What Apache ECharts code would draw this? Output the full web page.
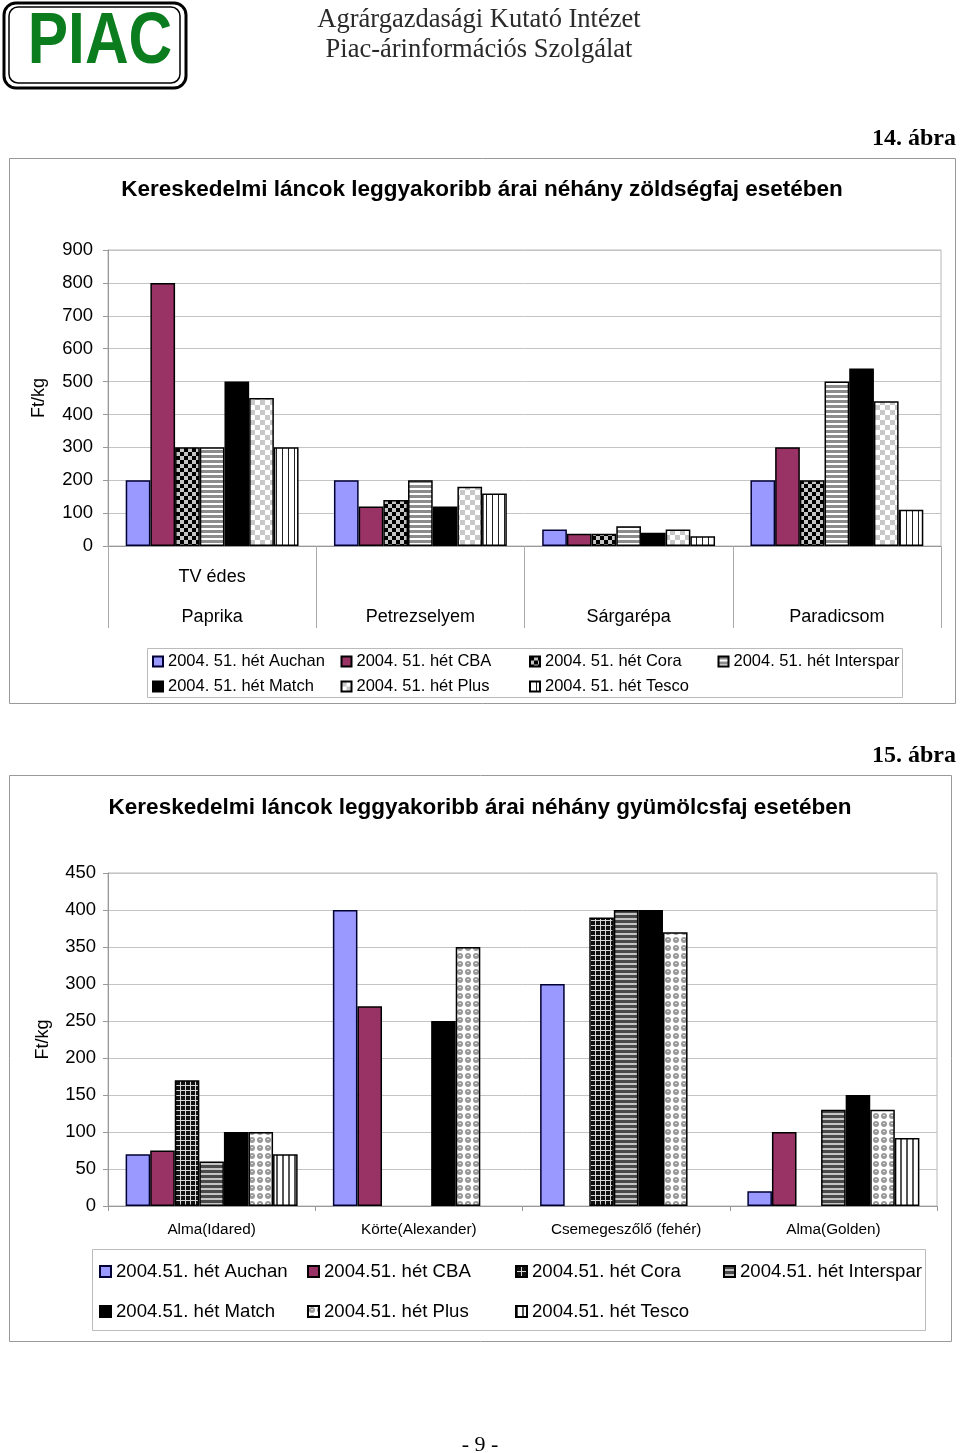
<!DOCTYPE html>
<html>
<head>
<meta charset="utf-8">
<script src="https://cdn.jsdelivr.net/npm/echarts@6/dist/echarts.min.js"></script>
<style>
html,body{margin:0;padding:0;background:#fff;}
#main{width:960px;height:1453px;}
</style>
</head>
<body>
<div id="main"></div>
<script>
// ---------- Data: chart 14 (vegetables) ----------
const categories1 = ['Paprika', 'Petrezselyem', 'Sárgarépa', 'Paradicsom'];
const subLabels1 = ['TV édes', '', '', ''];
const names1 = ['2004. 51. hét Auchan', '2004. 51. hét CBA', '2004. 51. hét Cora', '2004. 51. hét Interspar',
                '2004. 51. hét Match', '2004. 51. hét Plus', '2004. 51. hét Tesco'];
const auchan1    = [200, 200, 50, 200];
const cba1       = [800, 120, 37, 300];
const cora1      = [300, 140, 37, 200];
const interspar1 = [300, 200, 60, 500];
const match1     = [500, 120, 40, 540];
const plus1      = [450, 180, 50, 440];
const tesco1     = [300, 160, 30, 110];
const yTicks1 = {min: 0, max: 900, interval: 100};

// ---------- Data: chart 15 (fruits) ----------
const categories2 = ['Alma(Idared)', 'Körte(Alexander)', 'Csemegeszőlő (fehér)', 'Alma(Golden)'];
const names2 = ['2004.51. hét Auchan', '2004.51. hét CBA', '2004.51. hét Cora', '2004.51. hét Interspar',
                '2004.51. hét Match', '2004.51. hét Plus', '2004.51. hét Tesco'];
const auchan2    = [70, 400, 300, 20];
const cba2       = [75, 270, null, 100];
const cora2      = [170, null, 390, null];
const interspar2 = [60, null, 400, 130];
const match2     = [100, 250, 400, 150];
const plus2      = [100, 350, 370, 130];
const tesco2     = [70, null, null, 92];
const yTicks2 = {min: 0, max: 450, interval: 50};

// ---------- Patterns ----------
function pattern(w, h, draw) {
  const c = document.createElement('canvas');
  c.width = w; c.height = h;
  const ctx = c.getContext('2d');
  draw(ctx);
  return {image: c, repeat: 'repeat'};
}
const pCora1 = pattern(8, 8, ctx => { ctx.fillStyle = '#c4c4c4'; ctx.fillRect(0,0,8,8); ctx.fillStyle = '#000'; ctx.fillRect(0,0,4,4); ctx.fillRect(4,4,4,4); });
const pInter1 = pattern(5, 5, ctx => { ctx.fillStyle = '#fff'; ctx.fillRect(0,0,5,5); ctx.fillStyle = '#8c8c8c'; ctx.fillRect(0,0,5,3); });
const pPlus1 = pattern(10, 10, ctx => { ctx.fillStyle = '#fff'; ctx.fillRect(0,0,10,10); ctx.fillStyle = '#c8c8c8'; ctx.fillRect(0,0,5,5); ctx.fillRect(5,5,5,5); });
const pTesco1 = pattern(6, 2, ctx => { ctx.fillStyle = '#fff'; ctx.fillRect(0,0,6,2); ctx.fillStyle = '#222'; ctx.fillRect(0,0,1,2); });
const pCora2 = pattern(5, 5, ctx => { ctx.fillStyle = '#111'; ctx.fillRect(0,0,5,5); ctx.fillStyle = '#d8d8d8'; ctx.fillRect(0,0,5,1); ctx.fillRect(0,0,1,5); });
const pInter2 = pattern(5, 5, ctx => { ctx.fillStyle = '#c4c4c4'; ctx.fillRect(0,0,5,5); ctx.fillStyle = '#4a4a4a'; ctx.fillRect(0,0,5,3); });
const pPlus2 = pattern(8, 8, ctx => { ctx.fillStyle = '#fff'; ctx.fillRect(0,0,8,8); ctx.fillStyle = '#9a9a9a';
  ctx.beginPath(); ctx.arc(4,4,3,0,Math.PI*2); ctx.fill(); ctx.fillStyle = '#e4e4e4'; ctx.fillRect(3,3,2,1); });
const pTesco2 = pattern(6, 2, ctx => { ctx.fillStyle = '#fff'; ctx.fillRect(0,0,6,2); ctx.fillStyle = '#555'; ctx.fillRect(0,0,2,2); });

const FONT = '"Liberation Sans", Arial, sans-serif';
const SERIF = '"Liberation Serif", "Times New Roman", serif';

function bar(name, data, color, idx, border) {
  return {
    type: 'bar', name: name, data: data, xAxisIndex: idx, yAxisIndex: idx,
    barGap: '0%', barCategoryGap: '17%',
    itemStyle: {color: color, borderColor: border || '#000', borderWidth: 1.5},
    emphasis: {disabled: true}
  };
}

const series1 = [
  bar(names1[0], auchan1, '#9999ff', 0, '#000033'),
  bar(names1[1], cba1, '#993366', 0),
  bar(names1[2], cora1, pCora1, 0),
  bar(names1[3], interspar1, pInter1, 0),
  bar(names1[4], match1, '#000000', 0),
  bar(names1[5], plus1, pPlus1, 0),
  bar(names1[6], tesco1, pTesco1, 0)
];
const series2 = [
  bar(names2[0], auchan2, '#9999ff', 1, '#000033'),
  bar(names2[1], cba2, '#993366', 1),
  bar(names2[2], cora2, pCora2, 1),
  bar(names2[3], interspar2, pInter2, 1),
  bar(names2[4], match2, '#000000', 1),
  bar(names2[5], plus2, pPlus2, 1),
  bar(names2[6], tesco2, pTesco2, 1)
];

// one legend component per item, laid out in a 4-column grid
function legends(names, left0, colW, top0, rowH, fs, icon) {
  return names.map((n, i) => ({
    data: [n], left: left0 + (i % 4) * colW, top: top0 + Math.floor(i / 4) * rowH,
    orient: 'horizontal', padding: 0, itemWidth: icon, itemHeight: icon, itemGap: 0, icon: 'rect',
    selectedMode: false,
    textStyle: {fontSize: fs, fontFamily: FONT, color: '#000'}
  }));
}

const chart = echarts.init(document.getElementById('main'), null, {renderer: 'canvas'});
const option = {
  animation: false,
  backgroundColor: '#fff',
  grid: [
    {left: 108, top: 250, width: 833, height: 296, show: true, borderColor: '#b8b8b8', borderWidth: 1, containLabel: false},
    {left: 108, top: 873, width: 829, height: 333, show: true, borderColor: '#b8b8b8', borderWidth: 1, containLabel: false}
  ],
  xAxis: [
    {type: 'category', gridIndex: 0, data: categories1,
     axisLine: {lineStyle: {color: '#999'}},
     axisTick: {show: true, length: 82, interval: 0, lineStyle: {color: '#aaa'}},
     axisLabel: {interval: 0, margin: 21, fontSize: 18, lineHeight: 20, color: '#000', fontFamily: FONT,
       formatter: (v, i) => subLabels1[i] + '\n\n' + v}},
    {type: 'category', gridIndex: 1, data: categories2,
     axisLine: {lineStyle: {color: '#999'}},
     axisTick: {show: true, length: 5, interval: 0, lineStyle: {color: '#999'}},
     axisLabel: {interval: 0, margin: 16, fontSize: 15.3, color: '#000', fontFamily: FONT}}
  ],
  yAxis: [
    {type: 'value', gridIndex: 0, min: yTicks1.min, max: yTicks1.max, interval: yTicks1.interval,
     name: 'Ft/kg', nameLocation: 'middle', nameGap: 60, nameRotate: 90,
     nameTextStyle: {fontSize: 18, color: '#000', fontFamily: FONT},
     axisLine: {show: true, lineStyle: {color: '#999'}},
     axisTick: {show: true, length: 5, lineStyle: {color: '#999'}},
     axisLabel: {margin: 15, fontSize: 18.5, color: '#000', fontFamily: FONT},
     splitLine: {lineStyle: {color: '#c4c4c4'}}},
    {type: 'value', gridIndex: 1, min: yTicks2.min, max: yTicks2.max, interval: yTicks2.interval,
     name: 'Ft/kg', nameLocation: 'middle', nameGap: 56, nameRotate: 90,
     nameTextStyle: {fontSize: 18, color: '#000', fontFamily: FONT},
     axisLine: {show: true, lineStyle: {color: '#999'}},
     axisTick: {show: true, length: 5, lineStyle: {color: '#999'}},
     axisLabel: {margin: 12, fontSize: 18.5, color: '#000', fontFamily: FONT},
     splitLine: {lineStyle: {color: '#c4c4c4'}}}
  ],
  legend: legends(names1, 152, 188.5, 653, 25, 16.5, 10)
    .concat(legends(names2, 99, 208, 1262, 40, 18.6, 11)),
  series: series1.concat(series2),
  graphic: [
    // logo
    {type: 'rect', shape: {x: 4, y: 3, width: 182, height: 85, r: 12}, style: {fill: 'none', stroke: '#000', lineWidth: 3}},
    {type: 'rect', shape: {x: 9, y: 7, width: 171, height: 76, r: 9}, style: {fill: 'none', stroke: '#000', lineWidth: 1.5}},
    {type: 'text', x: 100, y: 43, scaleX: 0.84, style: {text: 'PIAC', x: 0, y: 0, align: 'center', verticalAlign: 'middle',
      font: 'bold 72px ' + FONT, fill: '#0b7d1f'}},
    {type: 'text', x: 479, y: 20, style: {text: 'Agrárgazdasági Kutató Intézet', x: 0, y: 0, align: 'center', verticalAlign: 'middle',
      font: '26.5px ' + SERIF, fill: '#2a2a2a'}},
    {type: 'text', x: 479, y: 50, style: {text: 'Piac-árinformációs Szolgálat', x: 0, y: 0, align: 'center', verticalAlign: 'middle',
      font: '26.5px ' + SERIF, fill: '#2a2a2a'}},
    // figure 14
    {type: 'text', style: {text: '14. ábra', x: 956, y: 139, align: 'right', verticalAlign: 'middle', font: 'bold 24px ' + SERIF, fill: '#000'}},
    {type: 'rect', shape: {x: 9.5, y: 158.5, width: 946, height: 545}, style: {fill: 'none', stroke: '#999', lineWidth: 1}, z: -1},
    {type: 'text', style: {text: 'Kereskedelmi láncok leggyakoribb árai néhány zöldségfaj esetében', x: 482, y: 190, align: 'center',
      verticalAlign: 'middle', font: 'bold 22.5px ' + FONT, fill: '#000'}},
    {type: 'rect', shape: {x: 147.5, y: 648.5, width: 755, height: 49}, style: {fill: 'none', stroke: '#bbb', lineWidth: 1}, z: -1},
    // figure 15
    {type: 'text', style: {text: '15. ábra', x: 956, y: 756, align: 'right', verticalAlign: 'middle', font: 'bold 24px ' + SERIF, fill: '#000'}},
    {type: 'rect', shape: {x: 9.5, y: 775.5, width: 942, height: 566}, style: {fill: 'none', stroke: '#999', lineWidth: 1}, z: -1},
    {type: 'text', style: {text: 'Kereskedelmi láncok leggyakoribb árai néhány gyümölcsfaj esetében', x: 480, y: 808, align: 'center',
      verticalAlign: 'middle', font: 'bold 22.5px ' + FONT, fill: '#000'}},
    {type: 'rect', shape: {x: 92.5, y: 1249.5, width: 833, height: 81}, style: {fill: 'none', stroke: '#bbb', lineWidth: 1}, z: -1},
    // page number
    {type: 'text', style: {text: '- 9 -', x: 480, y: 1445, align: 'center', verticalAlign: 'middle', font: '22px ' + SERIF, fill: '#000'}}
  ]
};
chart.setOption(option);
</script>
</body>
</html>
